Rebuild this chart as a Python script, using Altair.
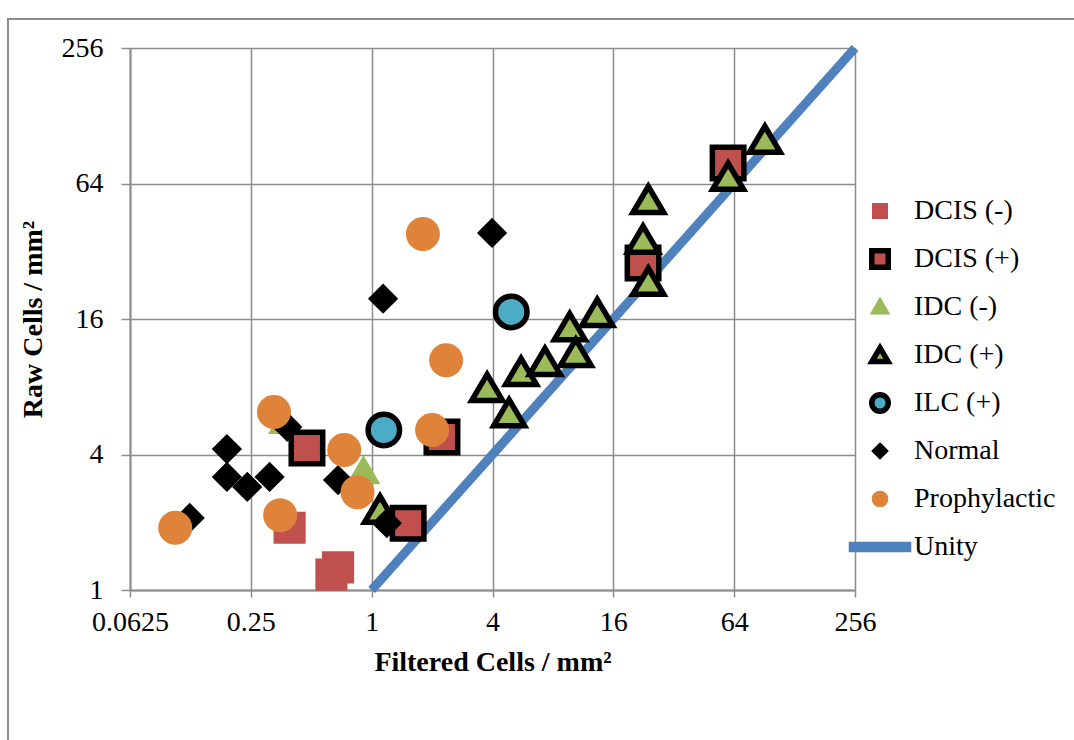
import altair as alt
import pandas as pd

series_order = ["DCIS (-)", "DCIS (+)", "IDC (-)", "IDC (+)", "ILC (+)", "Normal", "Prophylactic", "Unity"]

dcis_neg_x = [0.39, 0.68, 0.63]
dcis_neg_y = [1.89, 1.26, 1.17]

dcis_pos_x = [0.476, 2.24, 1.52, 22.5, 59.7]
dcis_pos_y = [4.28, 4.78, 1.98, 28.4, 79.0]

idc_neg_x = [0.37, 0.91]
idc_neg_y = [5.7, 3.41]

idc_pos_x = [1.10, 3.76, 4.84, 5.55, 7.3, 9.7, 10.4, 13.3, 23.9, 22.5, 23.9, 59.7, 91.0]
idc_pos_y = [2.27, 7.9, 6.1, 9.3, 10.3, 14.7, 11.3, 17.0, 54.0, 36.0, 23.4, 68.5, 100.0]

ilc_pos_x = [1.15, 4.96]
ilc_pos_y = [5.14, 17.2]

normal_x = [0.124, 0.19, 0.19, 0.24, 0.31, 0.38, 0.68, 1.19, 1.14, 3.98]
normal_y = [2.09, 4.23, 3.18, 2.87, 3.18, 5.3, 3.08, 1.98, 19.7, 38.6]

proph_x = [0.105, 0.326, 0.35, 0.73, 0.85, 1.80, 2.35, 2.0]
proph_y = [1.89, 6.18, 2.15, 4.19, 2.72, 38.2, 10.5, 5.14]

unity_x = [1, 256]
unity_y = [1, 256]

x_ticks = [0.0625, 0.25, 1, 4, 16, 64, 256]
y_ticks = [1, 4, 16, 64, 256]

rows = []
for name, xs, ys in [
    ("DCIS (-)", dcis_neg_x, dcis_neg_y),
    ("DCIS (+)", dcis_pos_x, dcis_pos_y),
    ("IDC (-)", idc_neg_x, idc_neg_y),
    ("IDC (+)", idc_pos_x, idc_pos_y),
    ("ILC (+)", ilc_pos_x, ilc_pos_y),
    ("Normal", normal_x, normal_y),
    ("Prophylactic", proph_x, proph_y),
    ("Unity", unity_x, unity_y),
]:
    for i, (a, b) in enumerate(zip(xs, ys)):
        rows.append({"series": name, "x": a, "y": b, "i": i})
df = pd.DataFrame(rows)

SERIF = "Liberation Serif"
GRID = "#8C8C8C"
BORDER = 5.5


def square(h):
    return f"M-{h},-{h}L{h},-{h}L{h},{h}L-{h},{h}Z"


def triangle(w, top, bot):
    return f"M0,-{top}L{w},{bot}L-{w},{bot}Z"


def circle(r):
    return f"M-{r},0A{r},{r},0,1,0,{r},0A{r},{r},0,1,0,-{r},0Z"


def diamond(h):
    return f"M0,-{h}L{h},0L0,{h}L-{h},0Z"


shape_range = [
    square(0.17),
    square(0.266),
    triangle(0.18, 0.16, 0.15),
    triangle(0.26, 0.23, 0.21),
    circle(0.266),
    diamond(0.16),
    circle(0.18),
    "M-0.92,-0.08L0.92,-0.08L0.92,0.08L-0.92,0.08Z",
]
fill_range = ["#C0504D", "#C0504D", "#9BBB59", "#9BBB59", "#4BACC6", "#000000", "#DE8339", "#4F81BD"]
stroke_range = ["#C0504D", "#000000", "#9BBB59", "#000000", "#000000", "#000000", "#DE8339", "#4F81BD"]

legend = alt.Legend(
    title=None, orient="none", legendX=713, legendY=141,
    symbolSize=3844, symbolStrokeWidth=BORDER, symbolOffset=3,
    labelFont=SERIF, labelFontSize=28, labelColor="black",
    labelOffset=0, clipHeight=44, rowPadding=4, padding=0, symbolOpacity=1,
)

xscale = alt.Scale(type="log", base=2, domain=[0.0625, 256], nice=False)
yscale = alt.Scale(type="log", base=2, domain=[1, 256], nice=False)

xenc = alt.X("x:Q", scale=xscale, axis=alt.Axis(
    values=x_ticks, format=".4~g", title="Filtered Cells / mm²",
    labelFlush=False, labelOverlap=False, tickSize=7, labelPadding=11, titlePadding=12))
yenc = alt.Y("y:Q", scale=yscale, axis=alt.Axis(
    values=y_ticks, format=".4~g", title="Raw Cells / mm²",
    labelFlush=False, labelOverlap=False, tickSize=9, labelPadding=18, titlePadding=14))

shape_enc = alt.Shape("series:N", scale=alt.Scale(domain=series_order, range=shape_range), legend=legend)
fill_enc = alt.Fill("series:N", scale=alt.Scale(domain=series_order, range=fill_range), legend=legend)
stroke_enc = alt.Stroke("series:N", scale=alt.Scale(domain=series_order, range=stroke_range), legend=legend)

base = alt.Chart(df)

line = base.transform_filter(alt.datum.series == "Unity").mark_line(strokeWidth=9, strokeCap="butt").encode(
    x=xenc, y=yenc, order="i:Q", stroke=stroke_enc
)

plain_size = 35721
border_size = 14018

plain_first = base.transform_filter(
    alt.FieldOneOfPredicate(field="series", oneOf=["DCIS (-)", "IDC (-)"])
).mark_point(filled=True, size=plain_size, opacity=1, strokeWidth=0).encode(
    x=xenc, y=yenc, shape=shape_enc, fill=fill_enc
)

bordered = base.transform_filter(
    alt.FieldOneOfPredicate(field="series", oneOf=["DCIS (+)", "IDC (+)", "ILC (+)"])
).mark_point(filled=True, size=border_size, opacity=1, strokeWidth=BORDER).encode(
    x=xenc, y=yenc, shape=shape_enc, fill=fill_enc, stroke=stroke_enc
)

plain_last = base.transform_filter(
    alt.FieldOneOfPredicate(field="series", oneOf=["Normal", "Prophylactic"])
).mark_point(filled=True, size=plain_size, opacity=1, strokeWidth=0).encode(
    x=xenc, y=yenc, shape=shape_enc, fill=fill_enc
)

frame_data = alt.Data(values=[{"k": 1}])
frame_left = alt.Chart(frame_data).mark_rule(color="#8A8A8A", strokeWidth=2).encode(
    x=alt.value(-122), y=alt.value(-29), y2=alt.value(700))
frame_top = alt.Chart(frame_data).mark_rule(color="#8A8A8A", strokeWidth=2).encode(
    x=alt.value(-123), x2=alt.value(1000), y=alt.value(-29))

chart = alt.layer(frame_left, frame_top, line, plain_first, bordered, plain_last).properties(
    width=725, height=542,
    autosize=alt.AutoSizeParams(type="none"),
    padding={"left": 130, "top": 48, "right": 219, "bottom": 150},
    background="white",
).configure_view(strokeWidth=0).configure_axis(
    labelFont=SERIF, labelFontSize=28, labelColor="black",
    titleFont=SERIF, titleFontSize=28, titleFontWeight="bold", titleColor="black",
    gridColor=GRID, gridWidth=1.5, domainColor=GRID, domainWidth=2,
    tickColor=GRID, tickWidth=1.5,
).configure_legend(
    labelFont=SERIF, labelFontSize=28, labelColor="black",
    symbolStrokeWidth=BORDER, symbolSize=3844,
)

chart.save("out.html", embed_options={"renderer": "svg", "actions": False})
